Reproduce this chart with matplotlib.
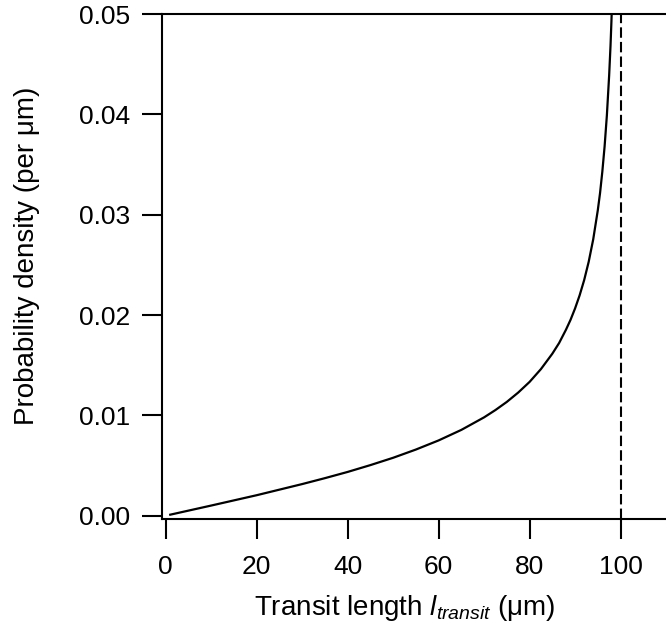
import matplotlib
matplotlib.use("Agg")
import matplotlib.pyplot as plt

plt.rcParams['font.family'] = ['Liberation Sans', 'DejaVu Sans']
plt.rcParams['mathtext.fontset'] = 'custom'
plt.rcParams['mathtext.rm'] = 'Liberation Sans'
plt.rcParams['mathtext.it'] = 'Liberation Sans:italic'

# Data
transit_length = [1, 10, 20, 30, 35, 40, 45, 50, 55, 60, 65, 70, 72.5, 75, 77.5,
                  80, 82.5, 85, 86.5, 88, 89, 90, 91, 92, 93, 94, 95, 95.5, 96,
                  96.5, 97, 97.5, 97.8, 98, 98.2]
density = [0.0001, 0.00101, 0.00204, 0.00315, 0.00374, 0.00436, 0.00504, 0.00577,
           0.00659, 0.0075, 0.00855, 0.0098, 0.01053, 0.01134, 0.01227,
           0.01333, 0.01461, 0.01614, 0.01721, 0.01853, 0.01951, 0.02065,
           0.02195, 0.02347, 0.0253, 0.02755, 0.03043, 0.03216, 0.03429,
           0.0368, 0.0399, 0.04388, 0.04683, 0.04925, 0.05204]
cutoff = 100
x_ticks = [0, 20, 40, 60, 80, 100]
y_ticks = [0.00, 0.01, 0.02, 0.03, 0.04, 0.05]
y_tick_labels = ["0.00", "0.01", "0.02", "0.03", "0.04", "0.05"]

fig = plt.figure(figsize=(6.66, 6.28), dpi=100)
ax = fig.add_axes([0.2437, 0.1731, 0.7563, 0.8046])

ax.plot(transit_length, density, color='black', lw=1.6)
ax.axvline(cutoff, color='black', lw=1.5, dashes=(5, 2))

ax.set_xlim(-0.75, 110)
ax.set_ylim(-0.00036, 0.05)
ax.set_xticks(x_ticks)
ax.set_yticks(y_ticks)
ax.set_yticklabels(y_tick_labels)

ax.spines['right'].set_visible(False)
for s in ['left', 'bottom', 'top']:
    ax.spines[s].set_linewidth(1.5)

ax.tick_params(axis='both', direction='out', length=14.5, width=1.5, labelsize=19)
ax.tick_params(axis='x', pad=11)
ax.tick_params(axis='y', pad=8.5)

ax.set_xlabel(r"Transit length $\mathit{l}_{\mathit{transit}}$ (μm)", fontsize=20,
              labelpad=10, x=0.481)
ax.set_ylabel("Probability density (per μm)", fontsize=20, labelpad=28, y=0.522)

fig.savefig("out.png", dpi=100)
